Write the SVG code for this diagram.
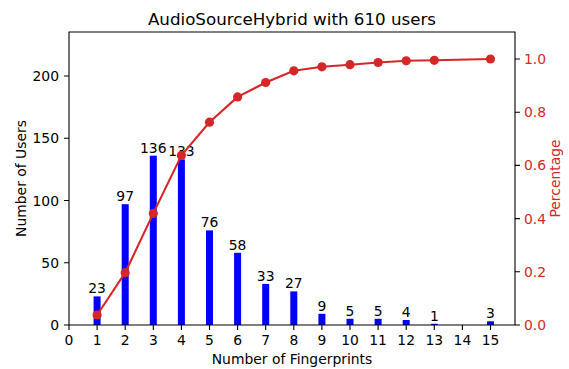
<svg xmlns="http://www.w3.org/2000/svg" width="569" height="369" viewBox="0 0 569 369">
<style>
text{font-family:"DejaVu Sans","Liberation Sans",sans-serif;fill:#000}
.t{font-size:13.9px}
.yl{text-anchor:end}
.xl{text-anchor:middle}
.r{fill:#d62728}
.bar{fill:#0000ff}
.tick{stroke:#000;stroke-width:1.1}
.lab{font-size:13.9px;text-anchor:middle}
</style>
<defs>
<circle id="dot" r="4.6" fill="#d62728"/>
</defs>
<rect width="569" height="369" fill="#fff"/>
<text x="292" y="25" font-size="16.7" text-anchor="middle">AudioSourceHybrid with 610 users</text>
<g id="bars">
<rect class="bar" x="93.6" y="296.4" width="7" height="28.6"/>
<rect class="bar" x="121.7" y="204.2" width="7" height="120.8"/>
<rect class="bar" x="149.8" y="155.7" width="7" height="169.3"/>
<rect class="bar" x="177.9" y="159.4" width="7" height="165.6"/>
<rect class="bar" x="206" y="230.4" width="7" height="94.6"/>
<rect class="bar" x="234.1" y="252.8" width="7" height="72.2"/>
<rect class="bar" x="262.2" y="283.9" width="7" height="41.1"/>
<rect class="bar" x="290.3" y="291.4" width="7" height="33.6"/>
<rect class="bar" x="318.4" y="313.8" width="7" height="11.2"/>
<rect class="bar" x="346.5" y="318.8" width="7" height="6.2"/>
<rect class="bar" x="374.6" y="318.8" width="7" height="6.2"/>
<rect class="bar" x="402.7" y="320" width="7" height="5"/>
<rect class="bar" x="430.8" y="323.8" width="7" height="1.2"/>
<rect class="bar" x="487" y="321.3" width="7" height="3.7"/>
</g>
<g id="bar-labels">
<text class="lab" x="97.1" y="293.2">23</text>
<text class="lab" x="125.2" y="201">97</text>
<text class="lab" x="153.3" y="152.5">136</text>
<text class="lab" x="181.4" y="156.2">133</text>
<text class="lab" x="209.5" y="227.2">76</text>
<text class="lab" x="237.6" y="249.6">58</text>
<text class="lab" x="265.7" y="280.7">33</text>
<text class="lab" x="293.8" y="288.2">27</text>
<text class="lab" x="321.9" y="310.6">9</text>
<text class="lab" x="350" y="315.6">5</text>
<text class="lab" x="378.1" y="315.6">5</text>
<text class="lab" x="406.2" y="316.8">4</text>
<text class="lab" x="434.3" y="320.6">1</text>
<text class="lab" x="490.5" y="318.1">3</text>
</g>
<g id="axes">
<path d="M69 32V325H515V32H69Z" fill="none" stroke="#000" stroke-width="1.1"/>
<path class="tick" d="M69 325v5M97.1 325v5M125.2 325v5M153.3 325v5M181.4 325v5M209.5 325v5M237.6 325v5M265.7 325v5M293.8 325v5M321.9 325v5M350 325v5M378.1 325v5M406.2 325v5M434.3 325v5M462.4 325v5M490.5 325v5"/>
<path class="tick" d="M64 325h5M64 262.75h5M64 200.5h5M64 138.25h5M64 76h5"/>
<path class="tick" d="M515 325h5M515 271.8h5M515 218.6h5M515 165.4h5M515 112.2h5M515 59h5"/>
<g class="t xl">
<text x="69" y="345">0</text><text x="97.1" y="345">1</text><text x="125.2" y="345">2</text><text x="153.3" y="345">3</text><text x="181.4" y="345">4</text><text x="209.5" y="345">5</text><text x="237.6" y="345">6</text><text x="265.7" y="345">7</text><text x="293.8" y="345">8</text><text x="321.9" y="345">9</text><text x="350" y="345">10</text><text x="378.1" y="345">11</text><text x="406.2" y="345">12</text><text x="434.3" y="345">13</text><text x="462.4" y="345">14</text><text x="490.5" y="345">15</text>
</g>
<g class="t yl">
<text x="59" y="330">0</text><text x="59" y="267.8">50</text><text x="59" y="205.5">100</text><text x="59" y="143.3">150</text><text x="59" y="81">200</text>
</g>
<g class="t r">
<text class="r" x="524" y="330">0.0</text><text class="r" x="524" y="276.8">0.2</text><text class="r" x="524" y="223.6">0.4</text><text class="r" x="524" y="170.4">0.6</text><text class="r" x="524" y="117.2">0.8</text><text class="r" x="524" y="64">1.0</text>
</g>
<text class="t" x="292" y="363.5" text-anchor="middle">Number of Fingerprints</text>
<text class="t" transform="translate(25.5,178.5) rotate(-90)" text-anchor="middle">Number of Users</text>
<text class="t r" transform="translate(560,178.5) rotate(-90)" text-anchor="middle">Percentage</text>
</g>
<g id="connectors">
<polyline fill="none" stroke="#d62728" stroke-width="2.1" stroke-linejoin="round" points="97.1,315 125.2,272.7 153.3,213.4 181.4,155.4 209.5,122.2 237.6,96.9 265.7,82.5 293.8,70.8 321.9,66.8 350,64.7 378.1,62.5 406.2,60.8 434.3,60.3 490.5,59"/>
</g>
<g id="cumulative-points">
<use href="#dot" x="97.1" y="315"/><use href="#dot" x="125.2" y="272.7"/><use href="#dot" x="153.3" y="213.4"/><use href="#dot" x="181.4" y="155.4"/><use href="#dot" x="209.5" y="122.2"/><use href="#dot" x="237.6" y="96.9"/><use href="#dot" x="265.7" y="82.5"/><use href="#dot" x="293.8" y="70.8"/><use href="#dot" x="321.9" y="66.8"/><use href="#dot" x="350" y="64.7"/><use href="#dot" x="378.1" y="62.5"/><use href="#dot" x="406.2" y="60.8"/><use href="#dot" x="434.3" y="60.3"/><use href="#dot" x="490.5" y="59"/>
</g>
</svg>
